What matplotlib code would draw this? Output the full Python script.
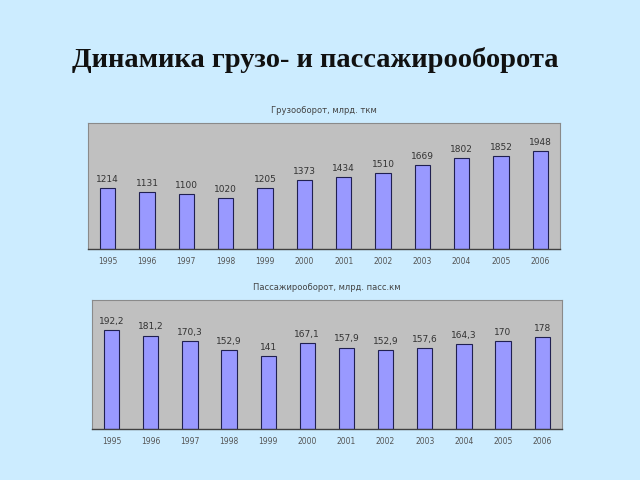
import matplotlib
matplotlib.use("Agg")
import matplotlib.pyplot as plt

years = ['1995', '1996', '1997', '1998', '1999', '2000',
         '2001', '2002', '2003', '2004', '2005', '2006']
cargo = [1214, 1131, 1100, 1020, 1205, 1373, 1434, 1510, 1669, 1802, 1852, 1948]
passenger = [192.2, 181.2, 170.3, 152.9, 141, 167.1, 157.9, 152.9, 157.6, 164.3, 170, 178]

bg = '#CCECFF'
fig = plt.figure(figsize=(6.4, 4.8), dpi=100, facecolor=bg)

fig.text(0.492, 0.875, 'Динамика грузо- и пассажирооборота', ha='center', va='center',
         fontsize=20.5, fontweight='bold', family='Liberation Serif', color='#111111')


def draw_panel(rect, values, ymax, title):
    ax = fig.add_axes(rect)
    ax.set_facecolor('#C0C0C0')
    x = range(len(years))
    ax.bar(x, values, width=0.39, color='#9999FF', edgecolor='#202050', linewidth=0.8)
    ax.set_xlim(-0.5, len(years) - 0.5)
    ax.set_ylim(0, ymax)
    ax.set_yticks([])
    ax.set_xticks(list(x))
    ax.set_xticklabels(years, fontsize=5.5, color='#555555')
    ax.tick_params(axis='x', length=0, pad=6)
    for s in ['top', 'left', 'right']:
        ax.spines[s].set_color('#8a8a8a')
        ax.spines[s].set_linewidth(0.8)
    ax.spines['bottom'].set_color('#404040')
    ax.spines['bottom'].set_linewidth(1.0)
    for xi, v in zip(x, values):
        ax.annotate(f'{v:g}'.replace('.', ','), (xi, v), xytext=(0, 3), textcoords='offset points',
                    ha='center', va='bottom', fontsize=6.5, color='#333333')
    ax.set_title(title, fontsize=6, color='#444444', pad=7)
    return ax


draw_panel([0.1375, 0.481, 0.7375, 0.2625], cargo, 2500, 'Грузооборот, млрд. ткм')
draw_panel([0.14375, 0.10625, 0.734, 0.26875], passenger, 250, 'Пассажирооборот, млрд. пасс.км')

fig.savefig('out.png', dpi=100, facecolor=bg)
